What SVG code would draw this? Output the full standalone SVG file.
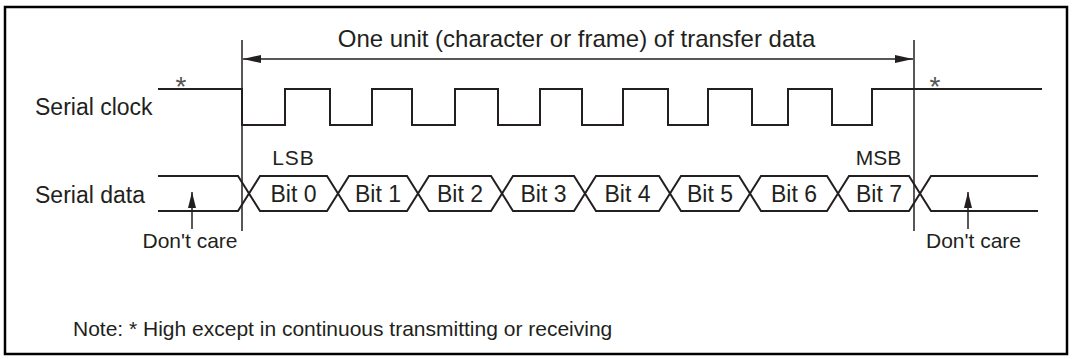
<svg xmlns="http://www.w3.org/2000/svg" width="1072" height="359" viewBox="0 0 1072 359">
<defs>
<style>
text{font-family:"Liberation Sans",Arial,sans-serif;fill:#231f20}
.lbl{font-size:23px}
.bit{font-size:23px;text-anchor:middle}
.sm{font-size:21px;text-anchor:middle}
.star{font-size:28px;text-anchor:middle;fill:#555}
.sig{fill:none;stroke:#231f20;stroke-width:2;stroke-linejoin:miter}
.thin{fill:none;stroke:#231f20;stroke-width:1.5}
</style>
<marker id="ah" viewBox="0 0 18 8" refX="18" refY="4" markerWidth="18" markerHeight="8" markerUnits="userSpaceOnUse" orient="auto-start-reverse">
<path d="M0,0 L18,4 L0,8 Z" fill="#231f20"/>
</marker>
<marker id="up" viewBox="0 0 8 16" refX="4" refY="0" markerWidth="8" markerHeight="16" markerUnits="userSpaceOnUse" orient="0">
<path d="M4,0 L8,16 L0,16 Z" fill="#231f20"/>
</marker>
</defs>
<rect x="5" y="7" width="1062" height="347" fill="#fff" stroke="#000" stroke-width="2.5"/>
<g id="title">
<text x="576.5" y="47" font-size="24" text-anchor="middle">One unit (character or frame) of transfer data</text>
</g>
<g id="labels">
<text class="lbl" x="35" y="115">Serial clock</text>
<text class="lbl" x="35" y="203">Serial data</text>
<text class="star" x="181" y="96">*</text>
<text class="star" x="935" y="96">*</text>
<text class="sm" x="293.5" y="165" letter-spacing="1">LSB</text>
<text class="sm" x="878.5" y="165">MSB</text>
<text class="sm" x="190" y="248">Don't care</text>
<text class="sm" x="973.5" y="248">Don't care</text>
<text x="73" y="336" font-size="21">Note: * High except in continuous transmitting or receiving</text>
</g>
<g id="serial-clock">
<path class="sig" d="M158,89 H242 V125 H285 V89 H330 V125 H372 V89 H412 V125 H455 V89 H498 V125 H540 V89 H582 V125 H623 V89 H668 V125 H708 V89 H752 V125 H788 V89 H832 V125 H872 V89 H1042"/>
</g>
<g id="serial-data">
<path class="sig" d="M158,176 H238 L260,211 H327 L349,176 H407 L429,211 H491 L513,176 H574 L596,211 H659 L681,176 H739 L761,211 H827 L849,176 H909 L931,211 H1038"/>
<path class="sig" d="M158,211 H238 L260,176 H327 L349,211 H407 L429,176 H491 L513,211 H574 L596,176 H659 L681,211 H739 L761,176 H827 L849,211 H909 L931,176 H1038"/>
<text class="bit" x="293.5" y="202">Bit 0</text>
<text class="bit" x="378" y="202">Bit 1</text>
<text class="bit" x="460" y="202">Bit 2</text>
<text class="bit" x="543.5" y="202">Bit 3</text>
<text class="bit" x="627.5" y="202">Bit 4</text>
<text class="bit" x="710" y="202">Bit 5</text>
<text class="bit" x="794" y="202">Bit 6</text>
<text class="bit" x="879" y="202">Bit 7</text>
</g>
<g id="connectors">
<line class="thin" x1="242" y1="40" x2="242" y2="231"/>
<line class="thin" x1="914" y1="40" x2="914" y2="231"/>
<line class="thin" x1="243" y1="59" x2="913" y2="59" marker-start="url(#ah)" marker-end="url(#ah)"/>
<line class="thin" x1="192" y1="229" x2="192" y2="192" marker-end="url(#up)"/>
<line class="thin" x1="968" y1="229" x2="968" y2="192" marker-end="url(#up)"/>
</g>
</svg>
